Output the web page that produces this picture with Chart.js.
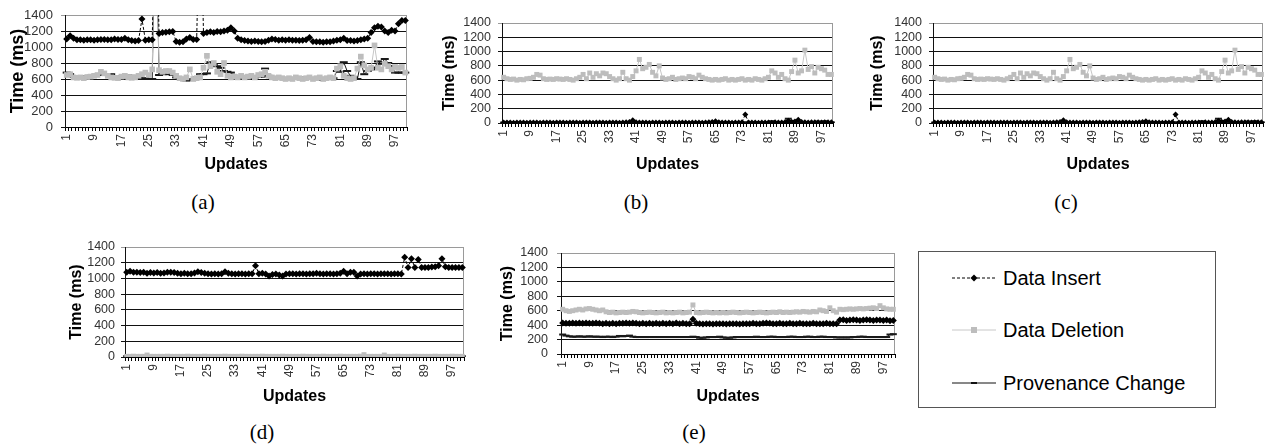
<!DOCTYPE html>
<html>
<head>
<meta charset="utf-8">
<script src="https://cdn.jsdelivr.net/npm/chart.js@4.4.1/dist/chart.umd.min.js"></script>
<style>
  html, body { margin: 0; padding: 0; background: #fff; }
  body { width: 1268px; height: 448px; position: relative; overflow: hidden; font-family: "Liberation Sans", Arial, sans-serif; }
  canvas.c { position: absolute; }
  .lab { position: absolute; font-family: "Liberation Serif", "Times New Roman", serif; font-size: 21px; color: #000; transform: translate(-50%, -50%); white-space: nowrap; }
  #legend { position: absolute; left: 918px; top: 251px; width: 298px; height: 157px; border: 1px solid #555; box-sizing: border-box; }
  #legend .item { position: absolute; left: 33px; height: 24px; display: flex; align-items: center; transform: translateY(-50%); }
  #legend .item span { margin-left: 7px; font-size: 20px; color: #000; }
</style>
</head>
<body>
<canvas id="ca" class="c"></canvas>
<canvas id="cb" class="c"></canvas>
<canvas id="cc" class="c"></canvas>
<canvas id="cd" class="c"></canvas>
<canvas id="ce" class="c"></canvas>

<div class="lab" style="left:203px;top:202px">(a)</div>
<div class="lab" style="left:636px;top:202px">(b)</div>
<div class="lab" style="left:1066px;top:202px">(c)</div>
<div class="lab" style="left:262px;top:432px">(d)</div>
<div class="lab" style="left:694px;top:432px">(e)</div>

<div id="legend">
  <div class="item" style="top:26px">
    <svg width="44" height="12"><line x1="0" y1="6" x2="44" y2="6" stroke="#000" stroke-width="1" stroke-dasharray="3,2"/><polygon points="22,2.5 25.5,6 22,9.5 18.5,6" fill="#000"/></svg>
    <span>Data Insert</span>
  </div>
  <div class="item" style="top:78px">
    <svg width="44" height="12"><line x1="0" y1="6" x2="44" y2="6" stroke="#c8c8c8" stroke-width="1"/><rect x="19" y="3" width="6" height="6" fill="#bdbdbd"/></svg>
    <span>Data Deletion</span>
  </div>
  <div class="item" style="top:131px">
    <svg width="44" height="12"><line x1="0" y1="6" x2="44" y2="6" stroke="#111" stroke-width="1"/><line x1="19" y1="6" x2="25" y2="6" stroke="#111" stroke-width="2"/></svg>
    <span>Provenance Change</span>
  </div>
</div>

<script>
// ---------- categories & tick labels ----------
const categories = ['1','2','3','4','5','6','7','8','9','10','11','12','13','14','15','16','17','18','19','20',
  '21','22','23','24','25','26','27','28','29','30','31','32','33','34','35','36','37','38','39','40',
  '41','42','43','44','45','46','47','48','49','50','51','52','53','54','55','56','57','58','59','60',
  '61','62','63','64','65','66','67','68','69','70','71','72','73','74','75','76','77','78','79','80',
  '81','82','83','84','85','86','87','88','89','90','91','92','93','94','95','96','97','98','99','100'];
const shownTicks = ['1','9','17','25','33','41','49','57','65','73','81','89','97'];
const yTickLabels = ['0','200','400','600','800','1000','1200','1400'];
const seriesNames = ['Data Insert','Data Deletion','Provenance Change'];

// ---------- chart (a) ----------
const aInsert = [1100,1140,1110,1090,1090,1085,1090,1090,1085,1090,
  1095,1095,1090,1090,1100,1095,1095,1110,1090,1080,
  1075,1080,1350,1085,1090,1090,3000,1170,1180,1185,
  1190,1195,1070,1060,1065,1100,1120,1095,1095,3000,
  1170,1180,1190,1180,1195,1190,1200,1210,1240,1200,
  1110,1090,1080,1075,1070,1075,1070,1065,1070,1085,
  1100,1095,1085,1090,1085,1090,1085,1085,1080,1085,
  1090,1120,1070,1065,1065,1060,1065,1065,1075,1085,
  1090,1110,1080,1080,1075,1080,1090,1100,1110,1180,
  1240,1260,1250,1200,1180,1210,1200,1290,1330,1330];
const aDeletion = [650,660,620,615,620,610,625,630,640,650,
  690,670,640,620,615,610,630,640,620,615,
  620,640,660,680,650,720,3000,710,690,700,
  700,680,640,610,600,620,720,600,610,620,
  740,890,760,800,690,660,800,640,620,630,
  620,640,620,630,640,620,650,660,690,640,
  620,610,620,610,600,610,600,620,610,600,
  610,620,600,610,620,600,610,620,610,730,
  760,640,610,600,610,730,880,770,720,740,
  1020,740,720,790,760,720,750,740,750,680];
const aProvenance = [680,660,630,620,630,620,630,640,640,650,
  660,660,650,660,620,620,630,620,640,640,
  620,610,600,610,600,600,3000,650,660,670,
  660,650,620,600,590,580,590,600,620,660,
  660,670,810,780,760,740,700,690,680,640,
  610,620,630,620,610,620,630,630,730,640,
  620,610,620,610,600,600,610,600,610,610,
  620,610,600,610,600,590,600,600,610,700,
  690,810,700,640,620,600,810,660,700,720,
  740,820,790,850,800,760,680,680,680,680];

// ---------- chart (b) ----------
const bInsert = [8,6,8,5,8,6,8,5,8,6,
  8,5,8,6,8,5,8,6,8,5,
  8,6,8,5,8,6,8,5,8,6,
  8,5,8,6,8,5,8,10,15,40,
  12,8,6,8,5,8,6,8,5,8,
  6,8,5,8,6,8,5,8,6,8,
  5,8,10,15,25,10,8,6,8,5,
  8,6,10,120,8,6,8,5,8,6,
  8,5,10,8,6,10,30,15,20,45,
  15,10,8,10,12,10,8,10,12,10];
const bDeletion = [640,620,610,615,600,610,605,620,625,640,
  680,670,620,610,615,610,620,615,610,620,
  610,600,620,640,680,620,700,640,690,660,
  700,690,650,620,600,620,710,620,600,650,
  730,890,760,780,820,710,660,800,630,610,
  620,640,610,620,630,620,650,640,620,670,
  640,620,610,600,610,600,610,620,600,610,
  600,610,620,600,610,600,620,610,600,620,
  640,730,700,640,680,620,600,720,880,700,
  730,1020,750,790,700,780,760,740,680,680];
const bProvenance = [6,5,6,5,6,5,6,5,6,5,
  6,5,6,5,6,5,6,5,6,5,
  6,5,6,5,6,5,6,5,6,5,
  6,5,6,5,6,5,6,5,6,8,
  6,5,6,5,6,5,6,5,6,5,
  6,5,6,5,6,5,6,5,6,5,
  6,5,6,5,8,5,6,5,6,5,
  6,5,6,8,6,5,6,5,6,5,
  8,25,10,8,6,10,60,15,30,10,
  8,10,12,10,8,20,10,25,10,8];

// ---------- chart (c) ----------
const cInsert = [8,6,8,5,8,6,8,5,8,6,
  8,5,8,6,8,5,8,6,8,5,
  8,6,8,5,8,6,8,5,8,6,
  8,5,8,6,8,5,8,10,15,40,
  12,8,6,8,5,8,6,8,5,8,
  6,8,5,8,6,8,5,8,6,8,
  5,8,10,15,25,10,8,6,8,5,
  8,6,10,120,8,6,8,5,8,6,
  8,5,10,8,6,10,30,15,20,45,
  15,10,8,10,12,10,8,10,12,10];
const cDeletion = [640,620,610,615,600,610,605,620,625,640,
  680,670,620,610,615,610,620,615,610,620,
  610,600,620,640,680,620,700,640,690,660,
  700,690,650,620,600,620,710,620,600,650,
  730,890,760,780,820,710,660,800,630,610,
  620,640,610,620,630,620,650,640,620,670,
  640,620,610,600,610,600,610,620,600,610,
  600,610,620,600,610,600,620,610,600,620,
  640,730,700,640,680,620,600,720,880,700,
  730,1020,750,790,700,780,760,740,680,680];
const cProvenance = [6,5,6,5,6,5,6,5,6,5,
  6,5,6,5,6,5,6,5,6,5,
  6,5,6,5,6,5,6,5,6,5,
  6,5,6,5,6,5,6,5,6,8,
  6,5,6,5,6,5,6,5,6,5,
  6,5,6,5,6,5,6,5,6,5,
  6,5,6,5,8,5,6,5,6,5,
  6,5,6,8,6,5,6,5,6,5,
  8,25,10,8,6,10,60,15,30,10,
  8,10,12,10,8,20,10,25,10,8];

// ---------- chart (d) ----------
const dInsert = [1080,1090,1080,1080,1075,1080,1065,1075,1070,1075,
  1065,1070,1080,1080,1075,1065,1060,1065,1060,1060,
  1070,1085,1075,1065,1060,1055,1060,1055,1060,1085,
  1065,1060,1055,1060,1060,1055,1060,1060,1160,1060,
  1065,1055,1030,1050,1055,1045,1030,1055,1060,1060,
  1055,1060,1060,1055,1060,1060,1065,1060,1055,1060,
  1060,1055,1060,1065,1090,1060,1080,1080,1030,1055,
  1060,1055,1060,1060,1055,1060,1060,1060,1055,1060,
  1060,1055,1270,1140,1250,1140,1240,1140,1140,1140,
  1145,1150,1160,1250,1150,1140,1140,1140,1140,1140];
const dDeletion = [8,8,10,8,8,8,25,8,8,8,
  8,8,10,8,8,8,8,8,10,8,
  8,8,8,10,8,8,8,8,8,10,
  8,8,8,8,10,8,8,8,8,8,
  10,8,8,8,8,8,10,8,8,8,
  8,8,10,8,8,8,8,8,10,8,
  8,8,8,10,8,8,8,8,8,10,
  30,8,8,8,8,8,25,8,8,8,
  10,8,8,8,8,10,8,8,8,8,
  8,10,8,8,8,8,10,8,8,8];
const dProvenance = [10,12,10,10,12,10,10,12,10,10,
  12,10,10,12,10,10,12,10,10,12,
  10,10,12,10,10,12,10,10,12,10,
  10,12,10,10,12,10,10,12,10,10,
  12,10,10,12,10,10,12,10,10,12,
  10,10,12,10,10,12,10,10,12,10,
  10,12,10,10,12,10,10,12,10,10,
  12,10,10,12,10,10,12,10,10,12,
  10,10,12,10,10,12,10,10,12,10,
  10,12,10,10,12,10,10,12,10,10];

// ---------- chart (e) ----------
const eInsert = [430,425,425,430,425,430,425,430,425,425,
  430,425,420,425,420,425,420,425,425,430,
  425,430,425,420,425,420,425,420,425,420,
  425,420,425,420,430,420,425,420,420,480,
  425,420,415,420,420,415,420,420,420,415,
  420,420,420,415,420,420,420,425,420,420,
  425,430,425,420,420,425,420,420,425,420,
  420,425,420,420,420,425,420,420,420,425,
  420,420,420,470,475,465,470,475,470,465,
  470,475,470,465,470,470,465,470,460,465];
const eDeletion = [620,600,590,600,610,620,610,625,630,620,
  610,600,610,585,575,580,570,575,580,575,
  580,590,585,575,570,575,580,575,570,575,
  580,570,575,570,575,580,570,575,580,680,
  575,570,575,580,575,570,575,570,575,570,
  575,580,575,570,575,580,575,570,575,580,
  575,570,575,580,575,585,575,580,575,580,
  585,580,590,585,580,590,585,610,600,590,
  640,600,580,620,615,620,625,620,625,630,
  625,630,635,640,630,670,640,625,620,620];
const eProvenance = [270,255,245,240,240,245,240,240,245,240,
  240,240,235,240,240,235,240,250,245,250,
  255,240,235,235,235,235,235,235,235,235,
  235,235,235,235,235,235,235,235,235,240,
  235,225,225,230,235,235,235,240,230,225,
  225,230,235,235,235,235,235,235,240,235,
  235,235,240,240,235,235,235,235,240,240,
  235,235,235,240,240,235,235,240,240,235,
  235,235,230,230,230,230,230,235,235,240,
  240,235,235,235,235,235,235,235,270,275];

// ---------- drawing ----------
const FONT = '"Liberation Sans", Arial, sans-serif';

const framePlugin = {
  id: 'frame',
  beforeDatasetsDraw(chart) {
    const a = chart.chartArea, c = chart.ctx;
    c.save();
    c.strokeStyle = '#9a9a9a';
    c.lineWidth = 1;
    c.beginPath();
    c.moveTo(Math.round(a.right) - 0.5, a.top);
    c.lineTo(Math.round(a.right) - 0.5, a.bottom);
    c.stroke();
    c.restore();
  }
};

function buildDatasets(ins, del, prov, st) {
  return [
    { label: seriesNames[0], data: ins, borderColor: '#000', backgroundColor: '#000', borderWidth: 1, borderDash: [3, 2],
      pointStyle: 'rectRot', pointRadius: st.ir, pointBackgroundColor: '#000', pointBorderWidth: 0, tension: 0 },
    { label: seriesNames[1], data: del, borderColor: '#c6c6c6', backgroundColor: '#bdbdbd', borderWidth: 1,
      pointStyle: 'rect', pointRadius: st.dr, pointBackgroundColor: '#bdbdbd', pointBorderWidth: 0, tension: 0 },
    { label: seriesNames[2], data: prov, borderColor: '#1a1a1a', backgroundColor: '#1a1a1a', borderWidth: 1,
      pointStyle: 'line', pointRadius: st.pr, pointBorderColor: '#1a1a1a', pointBorderWidth: 2, tension: 0 }
  ];
}

function makeChart(id, g, ins, del, prov) {
  const cv = document.getElementById(id);
  cv.width = g.w; cv.height = g.h;
  cv.style.left = g.left + 'px'; cv.style.top = g.top + 'px';
  cv.style.width = g.w + 'px'; cv.style.height = g.h + 'px';
  return new Chart(cv, {
    type: 'line',
    data: { labels: categories, datasets: buildDatasets(ins, del, prov, g) },
    plugins: [framePlugin],
    options: {
      responsive: false,
      maintainAspectRatio: false,
      animation: false,
      events: [],
      layout: { padding: { left: 0, top: g.padTop, right: g.padRight, bottom: 0 } },
      plugins: { legend: { display: false }, tooltip: { enabled: false } },
      scales: {
        x: {
          type: 'category',
          offset: true,
          grid: { display: true, drawOnChartArea: false, drawTicks: true, tickLength: 4, color: '#000', offset: true },
          border: { display: true, color: '#000', width: 1 },
          ticks: {
            autoSkip: false, maxRotation: 90, minRotation: 90, padding: 3,
            font: { family: FONT, size: 12 }, color: '#333',
            callback: (v, i) => shownTicks.includes(categories[i]) ? categories[i] : ''
          },
          title: { display: true, text: 'Updates', color: '#000', font: { family: FONT, size: 16, weight: 'bold' },
                   padding: { top: 0, bottom: g.xTitlePad } },
          afterFit: s => { s.height = g.xH; s.paddingLeft = 0; s.paddingRight = 0; }
        },
        y: {
          min: 0, max: 1400,
          grid: { color: c => (c.tick && c.tick.value === 1400) ? '#9a9a9a' : '#111', tickLength: 4, drawTicks: true },
          border: { display: true, color: '#111', width: 1 },
          ticks: { stepSize: 200, autoSkip: false, padding: g.yTickPad, font: { family: FONT, size: g.tickSize }, color: '#333',
                   callback: (v, i) => yTickLabels[i] },
          title: { display: true, text: 'Time (ms)', color: '#000', font: { family: FONT, size: g.yTitleSize, weight: 'bold' },
                   padding: { top: g.yTitlePad, bottom: 0 } },
          afterFit: s => { s.width = g.yW; s.paddingTop = 0; s.paddingBottom = 0; }
        }
      }
    }
  });
}

const geomA = { left: 0,   top: 0,   w: 413, h: 175, yW: 65, padTop: 15, padRight: 2, xH: 48, yTitleSize: 18, yTitlePad: 7.2,  xTitlePad: 1, yTickPad: 8, tickSize: 13, ir: 3.5, dr: 4, pr: 4 };
const geomB = { left: 420, top: 0,   w: 419, h: 175, yW: 82, padTop: 23, padRight: 2, xH: 52, yTitleSize: 16, yTitlePad: 20.4, xTitlePad: 1, yTickPad: 7, tickSize: 12.5, ir: 3, dr: 3.5, pr: 3.5 };
const geomC = { left: 851, top: 0,   w: 418, h: 175, yW: 82, padTop: 23, padRight: 1, xH: 52, yTitleSize: 16, yTitlePad: 17.4, xTitlePad: 1, yTickPad: 7, tickSize: 12.5, ir: 3, dr: 3.5, pr: 3.5 };
const geomD = { left: 40,  top: 230, w: 430, h: 178, yW: 85, padTop: 17, padRight: 2, xH: 51, yTitleSize: 16, yTitlePad: 27.4, xTitlePad: 2, yTickPad: 6, tickSize: 12.5, ir: 3.5, dr: 3.5, pr: 3.5 };
const geomE = { left: 470, top: 230, w: 431, h: 178, yW: 91, padTop: 23, padRight: 2, xH: 54, yTitleSize: 16, yTitlePad: 28.4, xTitlePad: 2, yTickPad: 9, tickSize: 12.5, ir: 3.5, dr: 3.5, pr: 3.5 };

makeChart('ca', geomA, aInsert, aDeletion, aProvenance);
makeChart('cb', geomB, bInsert, bDeletion, bProvenance);
makeChart('cc', geomC, cInsert, cDeletion, cProvenance);
makeChart('cd', geomD, dInsert, dDeletion, dProvenance);
makeChart('ce', geomE, eInsert, eDeletion, eProvenance);
</script>
</body>
</html>
